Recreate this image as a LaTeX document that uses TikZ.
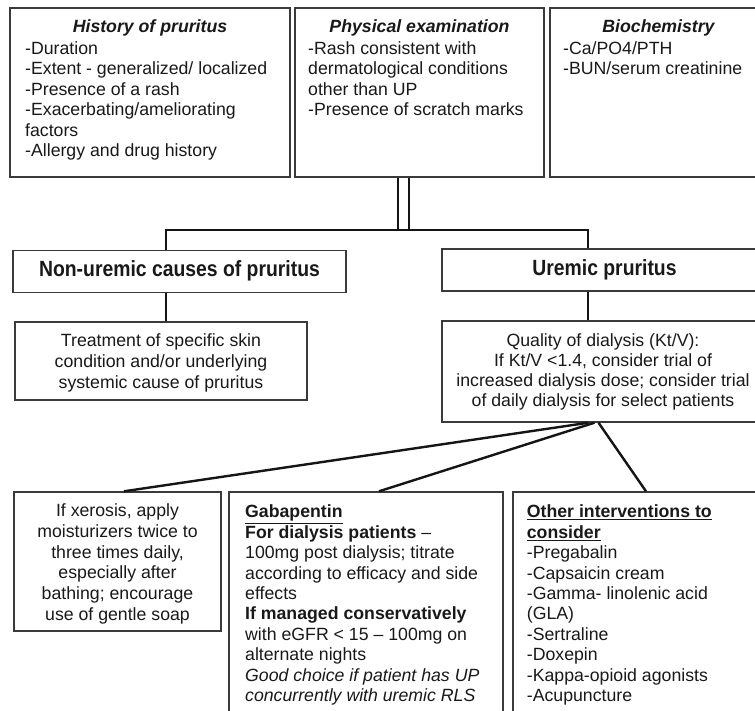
\documentclass[tikz,border=0pt]{standalone}
\usepackage{fontspec}
\setmainfont{Liberation Sans}
\usepackage{graphicx}
\definecolor{boxc}{HTML}{3A3A3A}
\definecolor{linec}{HTML}{151515}
\newcommand\mybody{\fontsize{17.7}{20.5}\selectfont}
\newcommand\mymid{\fontsize{22}{26}\selectfont\bfseries}
\tikzset{
  box/.style={draw=boxc, line width=1.4pt, inner sep=0pt, rectangle},
  conn/.style={draw=linec, line width=2.4pt, line join=miter},
  dbl/.style={draw=linec, line width=2.1pt},
  txt/.style={inner sep=0pt, font=\mybody, text=black!90},
  ttl/.style={inner sep=0pt, font=\mybody\bfseries\itshape, text=black!90, anchor=base},
}
\begin{document}
\begin{tikzpicture}[x=1pt,y=-1pt]
\useasboundingbox[fill=white] (0,0) rectangle (755,711);

% top boxes
\node[box, minimum width=280pt, minimum height=169pt] (hist) at (150,92.5) {};
\node[box, minimum width=249pt, minimum height=169pt] (phys) at (419.5,92.5) {};
\node[box, minimum width=217pt, minimum height=169pt] (bio) at (658.5,92.5) {};

\node[ttl] (histT) at (150,33) {History of pruritus};
\node[txt, anchor=north west, align=left] (histB) at (25,39.65) {\strut-Duration\\-Extent - generalized/ localized\\-Presence of a rash\\-Exacerbating/ameliorating\\factors\\-Allergy and drug history};

\node[ttl] (physT) at (419.5,33) {Physical examination};
\node[txt, anchor=north west, align=left] (physB) at (308,39.65) {\strut-Rash consistent with\\dermatological conditions\\other than UP\\-Presence of scratch marks};

\node[ttl] (bioT) at (658.5,33) {Biochemistry};
\node[txt, anchor=north west, align=left] (bioB) at (563,39.65) {\strut-Ca/PO4/PTH\\-BUN/serum creatinine};

% middle boxes
\node[box, minimum width=333pt, minimum height=42pt] (nonu) at (179.5,271.5) {};
\node[box, minimum width=325pt, minimum height=42pt] (urem) at (604.5,270) {};
\node[inner sep=0pt, anchor=base, font=\mymid, text=black!90] (nonuT) at (179.5,277) {\scalebox{0.88}[1]{Non-uremic causes of pruritus}};
\node[inner sep=0pt, anchor=base, font=\mymid, text=black!90] (uremT) at (604.5,275.5) {\scalebox{0.88}[1]{Uremic pruritus}};

\node[box, minimum width=292pt, minimum height=78pt] (treat) at (161,361) {};
\node[txt, anchor=north, align=center, font=\fontsize{17.7}{20.8}\selectfont] (treatB) at (161,331.65) {\strut Treatment of specific skin\\condition and/or underlying\\systemic cause of pruritus};

\node[box, minimum width=325pt, minimum height=101pt] (qual) at (604.5,371.5) {};
\node[txt, anchor=north, align=center, font=\fontsize{17.7}{20}\selectfont] (qualB) at (603,332) {\strut Quality of dialysis (Kt/V):\\If Kt/V <1.4, consider trial of\\increased dialysis dose; consider trial\\of daily dialysis for select patients};

% bottom boxes
\node[box, minimum width=207pt, minimum height=139pt] (xer) at (117.5,561.5) {};
\node[txt, anchor=north, align=center, font=\fontsize{17.7}{20.8}\selectfont] (xerB) at (117.5,501.65) {\strut If xerosis, apply\\moisturizers twice to\\three times daily,\\especially after\\bathing; encourage\\use of gentle soap};

\node[box, minimum width=274pt, minimum height=233pt] (gab) at (366,608.5) {};
\node[txt, anchor=north west, align=left, font=\fontsize{17.7}{20.4}\selectfont] (gabB) at (245,503.35) {\strut\underline{\textbf{Gabapentin}}\\\textbf{For dialysis patients} –\\100mg post dialysis; titrate\\according to efficacy and side\\effects\\\textbf{If managed conservatively}\\with eGFR < 15 – 100mg on\\alternate nights\\\textit{Good choice if patient has UP}\\\textit{concurrently with uremic RLS}};

\node[box, minimum width=254pt, minimum height=233pt] (oth) at (640,608.5) {};
\node[txt, anchor=north west, align=left, font=\fontsize{17.7}{20.4}\selectfont] (othB) at (526.7,503.35) {\strut\underline{\textbf{Other interventions to}}\\\underline{\textbf{consider}}\\-Pregabalin\\-Capsaicin cream\\-Gamma- linolenic acid\\(GLA)\\-Sertraline\\-Doxepin\\-Kappa-opioid agonists\\-Acupuncture};

% connectors
\coordinate (dL) at (397.7,230);
\coordinate (dR) at (409,230);
\draw[dbl] (dL |- phys.south) -- (dL);
\draw[dbl] (dR |- phys.south) -- (dR);

\coordinate (hl) at (166,230);
\coordinate (hr) at (588,230);
\draw[conn] (hl |- nonu.north) -- (hl) -- (hr) -- (hr |- urem.north);
\draw[conn] (hl |- nonu.south) -- (hl |- treat.north);
\draw[conn] (hr |- urem.south) -- (hr |- qual.north);

\draw[conn] ([xshift=-16pt]qual.south) -- ([xshift=6.5pt]xer.north);
\draw[conn] ([xshift=-10pt]qual.south) -- ([xshift=13pt]gab.north);
\draw[conn] ([xshift=-6pt]qual.south) -- ([xshift=6pt]oth.north);
\end{tikzpicture}
\end{document}
